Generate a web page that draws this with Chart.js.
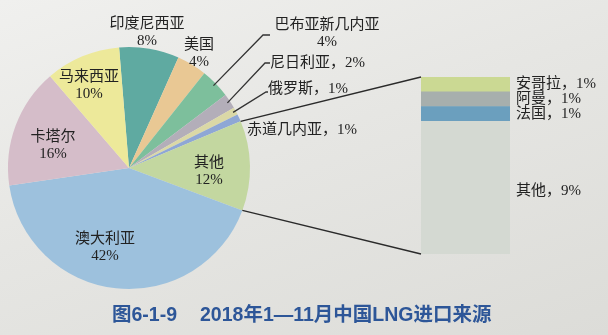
<!DOCTYPE html>
<html>
<head>
<meta charset="utf-8">
<script src="https://cdn.jsdelivr.net/npm/chart.js@4"></script>
<style>
  html, body { margin: 0; padding: 0; }
  body {
    width: 608px; height: 335px; overflow: hidden; position: relative;
    background: linear-gradient(160deg, #f0f0ee 0%, #e6e6e3 45%, #dcdcd8 100%);
  }
  canvas { position: absolute; left: 0; top: 0; }
</style>
</head>
<body>
<canvas id="pie" width="608" height="335"></canvas>
<canvas id="bar" width="608" height="335"></canvas>
<script>
// 2018年1—11月中国LNG进口来源 (%)
var sources = ["印度尼西亚", "美国", "巴布亚新几内亚", "尼日利亚", "俄罗斯", "赤道几内亚", "其他", "澳大利亚", "卡塔尔", "马来西亚"];
var shares = [8, 4, 4, 2, 1, 1, 12, 42, 16, 10];
var sliceColors = ["#5faaa1", "#e9c894", "#7dbf9c", "#b3aeb9", "#dad8a6", "#8ea7d5", "#c3d7a0", "#9dc1dd", "#d5bdc9", "#ede99a"];

// breakdown of "其他" (12%)
var otherSources = ["其他", "法国", "阿曼", "安哥拉"];
var otherShares = [9, 1, 1, 1];
var otherColors = ["#d4d9d2", "#6b9fbe", "#a7afad", "#cbd993"];

var serif = '"Liberation Serif", "Noto Sans CJK SC", serif';
var textColor = "#222";

// label layout for pie slices: [x, y, mode]  mode "c" = two centred lines, "l" = one line left aligned
var pieLabelPos = [
  [147, 24, "c"], [199, 45, "c"], [327, 25, "c"], [270, 63, "l"], [268, 89, "l"],
  [247, 130, "l"], [209, 163, "c"], [105, 239, "c"], [53, 137, "c"], [89, 77, "c"]
];
// leader line bends for outside labels (index -> [bendX, bendY, endX])
var leaders = { 2: [263, 35, 270], 3: [265, 63, 270], 4: [266, 92, 268] };

var pieLabels = {
  id: "pieLabels",
  afterDatasetsDraw: function (chart) {
    var ctx = chart.ctx;
    var arcs = chart.getDatasetMeta(0).data;
    ctx.save();
    ctx.fillStyle = textColor;
    ctx.strokeStyle = "#333";
    ctx.lineWidth = 1.3;
    ctx.font = "15px " + serif;
    ctx.textBaseline = "middle";
    arcs.forEach(function (arc, i) {
      var p = pieLabelPos[i];
      if (leaders[i]) {
        var mid = (arc.startAngle + arc.endAngle) / 2;
        var r = arc.outerRadius - 3;
        var b = leaders[i];
        ctx.beginPath();
        ctx.moveTo(arc.x + r * Math.cos(mid), arc.y + r * Math.sin(mid));
        ctx.lineTo(b[0], b[1]);
        ctx.lineTo(b[2], b[1]);
        ctx.stroke();
      }
      if (p[2] === "c") {
        ctx.textAlign = "center";
        ctx.fillText(sources[i], p[0], p[1]);
        ctx.fillText(shares[i] + "%", p[0], p[1] + 17);
      } else {
        ctx.textAlign = "left";
        ctx.fillText(sources[i] + "，" + shares[i] + "%", p[0], p[1]);
      }
    });
    ctx.restore();
  }
};

var pieChart = new Chart(document.getElementById("pie"), {
  type: "pie",
  data: {
    labels: sources,
    datasets: [{ data: shares, backgroundColor: sliceColors, borderWidth: 0 }]
  },
  options: {
    responsive: false,
    animation: false,
    devicePixelRatio: 1,
    rotation: -4.7,
    layout: { padding: { left: 8, top: 47, right: 358, bottom: 46 } },
    plugins: { legend: { display: false }, tooltip: { enabled: false } }
  },
  plugins: [pieLabels]
});

var barExtras = {
  id: "barExtras",
  afterDatasetsDraw: function (chart) {
    var ctx = chart.ctx;
    ctx.save();
    // segment labels
    ctx.fillStyle = textColor;
    ctx.font = "15px " + serif;
    ctx.textAlign = "left";
    ctx.textBaseline = "middle";
    var bars = [];
    chart.data.datasets.forEach(function (ds, i) {
      var el = chart.getDatasetMeta(i).data[0];
      bars.push(el);
      var cy = (el.y + el.base) / 2;
      ctx.fillText(otherSources[i] + "，" + otherShares[i] + "%", el.x + el.width / 2 + 6, cy + (i === 0 ? 3 : 0));
    });
    // connector lines from the "其他" slice to the bar
    var arc = pieChart.getDatasetMeta(0).data[sources.indexOf("其他")];
    var top = bars[bars.length - 1], bottom = bars[0];
    var left = top.x - top.width / 2;
    ctx.strokeStyle = "#2a2a2a";
    ctx.lineWidth = 1.3;
    ctx.beginPath();
    ctx.moveTo(arc.x + arc.outerRadius * Math.cos(arc.startAngle), arc.y + arc.outerRadius * Math.sin(arc.startAngle));
    ctx.lineTo(left, top.y);
    ctx.moveTo(arc.x + arc.outerRadius * Math.cos(arc.endAngle), arc.y + arc.outerRadius * Math.sin(arc.endAngle));
    ctx.lineTo(left, bottom.base);
    ctx.stroke();
    // caption
    ctx.fillStyle = "#2d5698";
    ctx.font = 'bold 19.5px "Liberation Sans", "Noto Sans CJK SC", sans-serif';
    ctx.textAlign = "left";
    ctx.fillText("图6-1-9", 112, 316);
    ctx.fillText("2018年1—11月中国LNG进口来源", 200, 316);
    ctx.restore();
  }
};

new Chart(document.getElementById("bar"), {
  type: "bar",
  data: {
    labels: [""],
    datasets: otherSources.map(function (name, i) {
      return { label: name, data: [otherShares[i]], backgroundColor: otherColors[i], borderWidth: 0 };
    })
  },
  options: {
    responsive: false,
    animation: false,
    devicePixelRatio: 1,
    barPercentage: 1,
    categoryPercentage: 1,
    layout: { padding: { left: 421, top: 77, right: 98, bottom: 81 } },
    scales: {
      x: { stacked: true, display: false },
      y: { stacked: true, display: false, min: 0, max: 12 }
    },
    plugins: { legend: { display: false }, tooltip: { enabled: false } }
  },
  plugins: [barExtras]
});
</script>
</body>
</html>
